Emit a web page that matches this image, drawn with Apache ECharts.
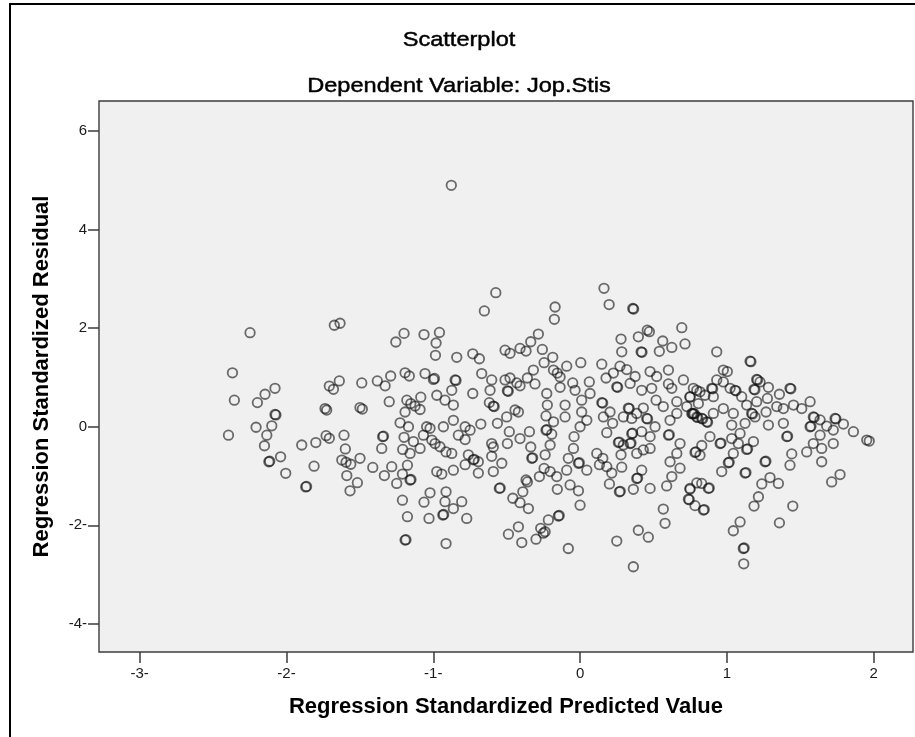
<!DOCTYPE html>
<html>
<head>
<meta charset="utf-8">
<script src="https://cdn.jsdelivr.net/npm/echarts@6/dist/echarts.min.js"></script>
<style>
html,body{margin:0;padding:0;background:#fff;}
#chart{width:915px;height:737px;}
</style>
</head>
<body>
<div id="chart"></div>
<script>
const chartTitle = 'Scatterplot';
const chartSubtitle = 'Dependent Variable: Jop.Stis';
const xAxisTitle = 'Regression Standardized Predicted Value';
const yAxisTitle = 'Regression Standardized Residual';

const xTickValues = [-3, -2, -1, 0, 1, 2];
const xTickLabels = ['-3-', '-2-', '-1-', '0', '1', '2'];
const yTickValues = [6, 4, 2, 0, -2, -4];
const yTickLabels = ['6', '4', '2', '0', '-2-', '-4-'];
const xRange = [-3.277, 2.268];
const yRange = [-4.57, 6.61];

// [standardized predicted value, standardized residual]
const residualPoints = [
[-2.248,1.91],[-1.674,2.06],[-1.635,2.10],[-2.368,1.095],[-2.355,0.54],[-2.395,-0.17],
[-2.078,0.78],[-2.146,0.66],[-2.198,0.49],[-2.078,0.25],[-2.072,0.24],[-2.10,0.02],
[-2.207,-0.01],[-2.134,-0.17],[-2.15,-0.385],[-2.12,-0.71],[-2.114,-0.70],[-2.04,-0.61],
[-2.005,-0.945],[-1.896,-0.37],[-1.80,-0.32],[-1.812,-0.80],[-1.869,-1.22],[-1.863,-1.21],
[-1.730,-0.18],[-1.708,-0.235],[-1.608,-0.17],[-1.599,-0.45],[-1.623,-0.675],[-1.594,-0.72],
[-1.562,-0.76],[-1.499,-0.64],[-1.589,-0.99],[-1.517,-1.135],[-1.567,-1.30],[-1.412,-0.825],
[-1.333,-0.99],[-1.283,-0.81],[-1.249,-1.15],[-1.210,-0.96],[-1.158,-1.08],[-1.152,-1.07],
[-1.176,-0.78],[-1.345,-0.20],[-1.339,-0.19],[-1.351,-0.44],[-1.708,0.825],[-1.68,0.76],
[-1.64,0.93],[-1.737,0.37],[-1.726,0.34],[-1.487,0.89],[-1.499,0.39],[-1.483,0.36],
[-1.381,0.93],[-1.328,0.83],[-1.290,1.03],[-1.30,0.51],[-1.255,1.72],[-1.199,1.895],
[-1.063,1.87],[-0.958,1.915],[-0.981,1.70],[-0.985,1.45],[-1.192,1.095],[-1.163,1.03],
[-1.056,1.08],[-0.999,0.96],[-0.992,0.98],[-1.18,0.54],[-1.153,0.47],[-1.124,0.42],
[-1.09,0.35],[-1.192,0.30],[-1.085,0.60],[-0.976,0.64],[-0.92,0.54],[-1.226,0.08],
[-1.169,0.0],[-1.199,-0.215],[-1.135,-0.30],[-1.09,-0.44],[-1.208,-0.46],[-1.158,-0.54],
[-1.045,0],[-1.022,-0.03],[-1.067,-0.17],[-1.01,-0.27],[-0.988,-0.34],[-0.954,-0.405],
[-0.913,-0.51],[-0.931,0],[-0.976,-0.91],[-0.942,-0.96],[-1.022,-1.34],[-1.063,-1.53],
[-0.913,-1.32],[-0.92,-1.52],[-1.21,-1.49],[-1.176,-1.825],[-1.029,-1.86],[-0.935,-1.79],
[-0.929,-1.78],[-1.192,-2.30],[-1.186,-2.29],[-0.913,-2.37],
[-0.574,2.72],[-0.652,2.35],[-0.17,2.43],[-0.175,2.18],[0.163,2.81],[0.198,2.48],
[0.359,2.40],[0.365,2.39],[0.458,1.96],[0.472,1.93],[0.693,2.01],[0.715,1.68],
[0.563,1.74],[0.625,1.61],[0.54,1.53],[0.397,1.825],[0.279,1.78],[0.284,1.52],
[0.416,1.52],[0.422,1.51],[-0.284,1.88],[-0.336,1.725],[-0.409,1.59],[-0.368,1.535],
[-0.511,1.555],[-0.477,1.49],[-0.257,1.57],[-0.186,1.41],[-0.84,1.41],[-0.731,1.48],
[-0.686,1.38],[-0.67,1.08],[-0.851,0.95],[-0.845,0.94],[-0.874,0.74],[-0.731,0.675],
[-0.602,0.95],[-0.613,0.74],[-0.511,0.95],[-0.495,0.73],[-0.489,0.72],[-0.477,0.99],
[-0.431,0.89],[-0.409,0.83],[-0.359,0.99],[-0.318,1.15],[-0.307,0.87],[-0.245,1.30],
[-0.181,1.15],[-0.155,1.09],[-0.136,1.01],[-0.091,1.23],[-0.136,0.80],[-0.05,0.89],
[0.005,1.30],[0.063,0.91],[0.068,0.675],[-0.034,0.74],[-0.227,0.675],[-0.223,0.44],
[-0.232,0.22],[-0.181,0.10],[-0.232,-0.07],[-0.226,-0.06],[-0.193,-0.15],[-0.204,-0.37],
[-0.238,-0.57],[-0.245,-0.845],[-0.277,-1.01],[-0.336,-0.41],[-0.329,-0.64],[-0.323,-0.63],
[-0.345,-0.10],[-0.409,-0.24],[-0.482,-0.10],[-0.495,-0.34],[-0.563,0.07],[-0.50,0.20],
[-0.443,0.34],[-0.42,0.30],[-0.618,0.49],[-0.591,0.42],[-0.585,0.41],[-0.863,0.44],
[-0.863,0.13],[-0.783,0.0],[-0.749,-0.07],[-0.783,-0.26],[-0.829,-0.17],[-0.874,-0.54],
[-0.676,0.055],[-0.602,-0.34],[-0.591,-0.41],[-0.761,-0.57],[-0.727,-0.67],[-0.721,-0.66],
[-0.693,-0.71],[-0.783,-0.77],[-0.863,-0.88],[-0.693,-0.94],[-0.591,-0.91],[-0.602,-0.60],
[-0.533,-0.74],[-0.55,-1.25],[-0.544,-1.24],[-0.458,-1.45],[-0.409,-1.54],[-0.352,-1.66],
[-0.39,-1.32],[-0.368,-1.08],[-0.359,-1.12],[-0.806,-1.52],[-0.863,-1.66],[-0.772,-1.86],
[-0.488,-2.18],[-0.42,-2.03],[-0.397,-2.35],[-0.30,-2.28],[-0.268,-2.06],[-0.238,-2.13],
[-0.216,-1.89],[-0.25,-2.16],[-0.148,-1.81],[-0.142,-1.80],[-0.08,-2.47],[0,-1.59],
[-0.011,-1.30],[-0.068,-1.18],[-0.155,-1.27],[-0.091,-0.88],[-0.011,-0.74],[-0.005,-0.73],
[0.046,-0.88],[-0.045,-0.44],[-0.08,-0.64],[0,0],[0.046,0.13],[-0.041,-0.20],
[-0.102,0.44],[-0.102,0.20],[0.011,0.30],[0.011,0.54],[-0.159,-1.01],[-0.204,-0.91],
[0.114,-0.54],[0.155,-0.64],[0.132,-0.77],[0.182,-0.81],[0.216,-0.94],[0.20,-1.16],
[0.268,-1.32],[0.274,-1.31],[0.284,-0.82],[0.279,-0.57],[0.261,-0.32],[0.267,-0.31],
[0.295,-0.37],[0.148,0.49],[0.154,0.48],[0.182,-0.12],[0.159,0.20],[0.222,0.07],
[0.204,0.30],[0.148,1.27],[0.177,0.99],[0.227,1.09],[0.272,1.23],[0.318,1.16],
[0.25,0.81],[0.256,0.80],[0.341,0.88],[0.375,1.02],[0.42,0.74],[0.329,0.38],
[0.335,0.37],[0.352,0.17],[0.295,0.20],[0.386,0.27],[0.431,0.38],[0.454,0.17],
[0.46,0.16],[0.511,0],[0.477,-0.20],[0.42,-0.10],[0.352,-0.14],[0.358,-0.13],
[0.341,-0.34],[0.347,-0.33],[0.386,-0.54],[0.431,-0.47],[0.477,-0.44],[0.42,-0.88],
[0.386,-1.05],[0.392,-1.04],[0.363,-1.27],[0.477,-1.25],[0.567,-1.67],[0.579,-1.96],
[0.397,-2.10],[0.465,-2.24],[0.25,-2.32],[0.363,-2.84],[0.477,1.12],[0.522,1.02],
[0.602,1.15],[0.488,0.78],[0.518,0.54],[0.567,0.41],[0.602,0.87],[0.625,0.78],
[0.659,0.51],[0.704,0.95],[0.749,0.60],[0.795,0.74],[0.772,0.27],[0.778,0.26],
[0.659,0.27],[0.613,0.13],[0.602,-0.17],[0.608,-0.16],[0.681,-0.34],[0.659,-0.54],
[0.613,-0.71],[0.625,-1.01],[0.681,-0.84],[0.59,-1.20],[0.749,-1.27],[0.738,-1.47],
[0.744,-1.48],[0.783,-1.60],[0.795,-1.14],[0.783,-0.52],[0.789,-0.51],
[0.931,1.52],[1.158,1.33],[1.164,1.32],[0.976,1.15],[1.003,1.12],[0.772,0.78],
[0.817,0.71],[0.897,0.78],[0.903,0.77],[0.931,0.95],[0.976,0.91],[1.022,0.78],
[1.056,0.74],[1.062,0.73],[0.908,0.61],[0.851,0.64],[0.749,0.61],[1.203,0.96],
[1.209,0.95],[1.226,0.91],[1.185,0.76],[1.191,0.75],[1.283,0.80],[1.358,0.66],
[1.43,0.78],[1.436,0.77],[1.101,0.61],[1.135,0.44],[1.203,0.51],[1.276,0.575],
[1.267,0.30],[1.340,0.41],[1.385,0.37],[0.976,0.37],[1.044,0.27],[0.908,0.27],
[0.806,0.47],[0.727,0.41],[0.761,0.27],[0.767,0.26],[0.795,0.20],[0.801,0.19],
[0.829,0.17],[0.835,0.16],[0.863,0.10],[0.869,0.09],[1.169,0.27],[1.175,0.26],
[1.192,0.20],[1.033,0.034],[1.124,0.07],[1.09,-0.135],[1.033,-0.24],[1.078,-0.34],
[1.181,-0.30],[1.135,-0.46],[1.141,-0.45],[0.954,-0.34],[0.96,-0.33],[0.885,-0.20],
[0.829,-0.38],[0.817,-0.58],[1.283,0.034],[1.385,0.07],[1.408,-0.20],[1.414,-0.19],
[1.260,-0.71],[1.266,-0.70],[1.124,-0.94],[1.13,-0.93],[1.01,-0.73],[1.016,-0.72],
[0.965,-0.91],[1.044,-0.54],[1.454,0.44],[1.510,0.37],[1.567,0.51],[1.589,0.20],
[1.595,0.19],[1.567,0],[1.573,0.01],[1.635,0.14],[1.68,0.014],[1.737,0.17],
[1.743,0.16],[1.794,0.054],[1.862,-0.10],[1.953,-0.27],[1.97,-0.29],[1.725,-0.068],
[1.635,-0.17],[1.589,-0.34],[1.544,-0.51],[1.646,-0.44],[1.725,-0.34],[1.646,-0.71],
[1.442,-0.55],[1.43,-0.78],[1.714,-1.12],[1.771,-0.97],[1.294,-1.03],[1.351,-1.15],
[1.238,-1.16],[1.215,-1.42],[1.185,-1.61],[1.449,-1.61],[1.358,-1.95],[1.09,-1.93],
[1.044,-2.11],[1.112,-2.47],[1.118,-2.46],[0.749,-1.25],[0.829,-1.15],[0.874,-1.25],
[0.88,-1.24],[0.84,-1.69],[0.846,-1.68],[1.115,-2.78],
[-0.877,4.90]
];

const FONT = '"Liberation Sans", Arial, sans-serif';
const chart = echarts.init(document.getElementById('chart'), null, {renderer: 'canvas'});

chart.setOption({
  backgroundColor: '#ffffff',
  animation: false,
  graphic: [
    {
      type: 'rect', silent: true, z: 100,
      shape: {x: 10, y: 4, width: 1000, height: 1000},
      style: {fill: 'none', stroke: '#000', lineWidth: 2}
    },
    {
      type: 'text', silent: true, x: 459, y: 40, scaleX: 1.15,
      style: {text: chartTitle, fontFamily: FONT, fontSize: 20.5, fill: '#000',
        stroke: '#000', lineWidth: 0.45, align: 'center', verticalAlign: 'middle'}
    },
    {
      type: 'text', silent: true, x: 459, y: 86, scaleX: 1.15,
      style: {text: chartSubtitle, fontFamily: FONT, fontSize: 20.5, fill: '#000',
        stroke: '#000', lineWidth: 0.45, align: 'center', verticalAlign: 'middle'}
    }
  ],
  grid: {
    left: 99, top: 101, width: 814, height: 551,
    show: true, backgroundColor: '#f0f0f0', borderColor: '#3c3c3c', borderWidth: 1.4
  },
  xAxis: {
    type: 'value', min: xRange[0], max: xRange[1],
    name: xAxisTitle, nameLocation: 'middle', nameGap: 44,
    nameTextStyle: {fontFamily: FONT, fontSize: 22, fontWeight: 'bold', color: '#000'},
    axisLine: {show: false, onZero: false},
    splitLine: {show: false},
    axisTick: {show: true, length: 11, customValues: xTickValues,
      lineStyle: {color: '#3c3c3c', width: 1.5}},
    axisLabel: {show: true, customValues: xTickValues, margin: 14,
      fontFamily: FONT, fontSize: 15, color: '#1a1a1a',
      formatter: v => xTickLabels[xTickValues.indexOf(Math.round(v))]}
  },
  yAxis: {
    type: 'value', min: yRange[0], max: yRange[1],
    name: yAxisTitle, nameLocation: 'middle', nameGap: 46, nameRotate: 90,
    nameTextStyle: {fontFamily: FONT, fontSize: 22, fontWeight: 'bold', color: '#000'},
    axisLine: {show: false, onZero: false},
    splitLine: {show: false},
    axisTick: {show: true, length: 11, customValues: yTickValues,
      lineStyle: {color: '#3c3c3c', width: 1.5}},
    axisLabel: {show: true, customValues: yTickValues, margin: 12,
      fontFamily: FONT, fontSize: 15, color: '#1a1a1a',
      formatter: v => yTickLabels[yTickValues.indexOf(Math.round(v))]}
  },
  series: [{
    type: 'scatter',
    data: residualPoints,
    symbol: 'circle',
    symbolSize: 9.5,
    itemStyle: {color: 'rgba(0,0,0,0)', borderColor: 'rgba(15,15,15,0.75)', borderWidth: 1.8}
  }]
});
</script>
</body>
</html>
